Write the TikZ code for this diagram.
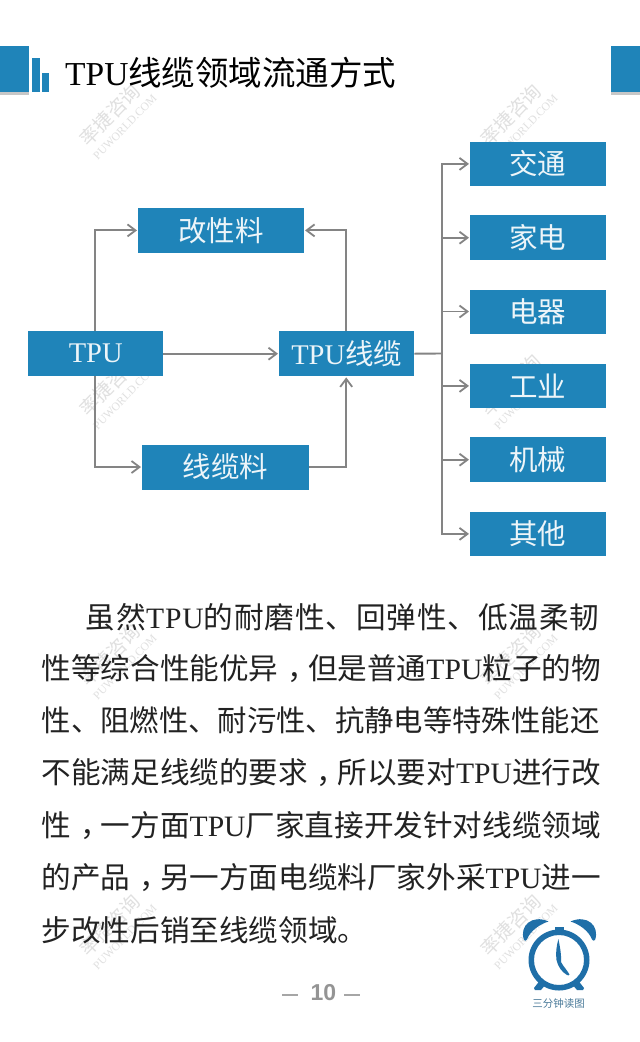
\documentclass[tikz,border=0pt]{standalone}
\usepackage{fontspec}
\usetikzlibrary{arrows.meta}
\setmainfont{Liberation Serif}
\newfontfamily\cjk{Noto Sans CJK SC}
\newfontfamily\cjkw[LetterSpace=3.1]{Noto Sans CJK SC}
\newfontfamily\serifw[LetterSpace=3.1]{Liberation Serif}
\newfontfamily\pagefont{Liberation Sans}
\definecolor{boxblue}{HTML}{1F84B9}
\definecolor{linegray}{HTML}{848484}
\definecolor{clockblue}{HTML}{1F6FA8}
\definecolor{clocktext}{HTML}{4A7A99}
\definecolor{wm}{HTML}{E0E0E0}
\definecolor{inktext}{HTML}{222222}
\newcommand{\ccomma}{\kern0.3em，\kern-0.3em}
\tikzset{
  bluebox/.style={fill=boxblue,text=white!92!boxblue,inner sep=0pt,anchor=north west,align=center,font=\fontsize{28.5}{30}\selectfont},
  conn/.style={draw=linegray,line width=1.9pt,line join=miter},
  arr/.style={conn,-{Straight Barb[length=8pt,width=12pt,line width=1.8pt]},shorten >=1pt},
  bodyline/.style={anchor=west,inner sep=0pt,text=inktext,font=\fontsize{29.6}{31}\selectfont},
  wmmain/.style={text=wm,rotate=46,inner sep=0pt,font=\fontsize{19}{20}\selectfont},
  wmsub/.style={text=wm,rotate=46,inner sep=0pt,font=\fontsize{11.5}{13}\selectfont},
  deco/.style={fill=boxblue,draw=none},
  decoshade/.style={fill=black!22,draw=none},
  clk/.style={fill=clockblue,draw=none}
}
\newcommand{\wmark}[3]{%
  \node[wmmain] (wa#3) at (#1,#2) {\cjk 率捷咨询};
  \node[wmsub] (wb#3) at (#1+15,#2+12) {PUWORLD.COM};
}
\begin{document}
\begin{tikzpicture}[x=1pt,y=-1pt]
\useasboundingbox (0,0) rectangle (640,1042);
\fill[white] (0,0) rectangle (640,1042);
% watermarks
\wmark{110}{115}{1}
\wmark{511}{115}{2}
\wmark{110}{385}{3}
\wmark{511}{385}{4}
\wmark{110}{655}{5}
\wmark{511}{655}{6}
\wmark{110}{925}{7}
\wmark{511}{925}{8}
% header decoration
\fill[decoshade] (0,92) rectangle (28.5,94.5);
\fill[decoshade] (611,92) rectangle (640,94.5);
\fill[deco] (0,46) rectangle (28.5,92);
\fill[deco] (32,58) rectangle (39.6,92);
\fill[deco] (41.6,72.7) rectangle (49,92);
\fill[deco] (611,46) rectangle (640,92);
\node[anchor=west,inner sep=0pt,text=black,font=\fontsize{33.5}{35}\selectfont] (title) at (65,73) {TPU{\cjk 线缆领域流通方式}};
% boxes
\node[bluebox,minimum width=135pt,minimum height=45pt] (tpu) at (28,331) {TPU};
\node[bluebox,minimum width=135pt,minimum height=45pt] (xl) at (279,331) {TPU{\cjk 线缆}};
\node[bluebox,minimum width=165.7pt,minimum height=45pt] (gxl) at (138,207.7) {\cjk 改性料};
\node[bluebox,minimum width=167pt,minimum height=45pt] (xll) at (142,444.3) {\cjk 线缆料};
\node[bluebox,minimum width=135.3pt,minimum height=44pt] (jt) at (470,141.7) {\cjk 交通};
\node[bluebox,minimum width=135.3pt,minimum height=45pt] (jd) at (470,215) {\cjk 家电};
\node[bluebox,minimum width=135.3pt,minimum height=44pt] (dq) at (470,289.3) {\cjk 电器};
\node[bluebox,minimum width=135.3pt,minimum height=44pt] (gy) at (470,363.7) {\cjk 工业};
\node[bluebox,minimum width=135.3pt,minimum height=45pt] (jx) at (470,437) {\cjk 机械};
\node[bluebox,minimum width=135.3pt,minimum height=44pt] (qt) at (470,511.7) {\cjk 其他};
% connectors
\coordinate (trunkmid) at (441.6,353.5);
\draw[arr] (tpu.east) -- (xl.west);
\draw[arr] ([xshift=-0.8pt]tpu.north) |- (gxl.west);
\draw[arr] ([xshift=-0.8pt]tpu.south) |- (xll.west);
\draw[arr] ([xshift=-0.5pt]xl.north) |- (gxl.east);
\draw[arr] (xll.east) -| ([xshift=-0.5pt]xl.south);
\draw[conn] (xl.east) -- (trunkmid);
\draw[arr] (trunkmid) |- (jt.west);
\draw[arr] (trunkmid) |- (jd.west);
\draw[arr] (trunkmid) |- (dq.west);
\draw[arr] (trunkmid) |- (gy.west);
\draw[arr] (trunkmid) |- (jx.west);
\draw[arr] (trunkmid) |- (qt.west);
% body text
\node[bodyline] (l1) at (85.7,616.7) {{\cjkw 虽然}{\serifw TPU}{\cjkw 的耐磨性、回弹性、低温柔韧}};
\node[bodyline] (l2) at (41.5,668.5) {{\cjk 性等综合性能优异\ccomma 但是普通}TPU{\cjk 粒子的物}};
\node[bodyline,font=\fontsize{29.35}{31}\selectfont] (l3) at (41.5,720.5) {{\cjk 性、阻燃性、耐污性、抗静电等特殊性能还}};
\node[bodyline] (l4) at (41.5,773) {{\cjk 不能满足线缆的要求\ccomma 所以要对}TPU{\cjk 进行改}};
\node[bodyline] (l5) at (41.5,825.5) {{\cjk 性\ccomma 一方面}TPU{\cjk 厂家直接开发针对线缆领域}};
\node[bodyline] (l6) at (41.5,878) {{\cjk 的产品\ccomma 另一方面电缆料厂家外采}TPU{\cjk 进一}};
\node[bodyline] (l7) at (41.5,930) {{\cjk 步改性后销至线缆领域。}};
% page number
\node[inner sep=0pt,text=black!42,font=\fontsize{23}{24}\bfseries\selectfont] (pg) at (323.5,993) {\pagefont 10};
\draw[black!35,line width=1.6pt] (282,995) -- (298,995);
\draw[black!35,line width=1.6pt] (344,995) -- (360,995);
% clock
\fill[clk,even odd rule] (559,960) circle (30.5) (559,960) circle (25);
\fill[clk] (524,940) .. controls (519,926) and (532,914) .. (548.5,921.5) .. controls (540,924) and (530,931) .. (527,939.5) .. controls (526,941) and (525,941) .. (524,940) -- cycle;
\fill[clk] (595,940) .. controls (600,926) and (587,914) .. (570.5,921.5) .. controls (579,924) and (589,931) .. (592,939.5) .. controls (593,941) and (594,941) .. (595,940) -- cycle;
\fill[clk] (555,927) rectangle (563.5,933);
\fill[clk] (534,988) -- (541,979) -- (546,984) -- (541,990) -- (535,990) -- cycle;
\fill[clk] (584,988) -- (577,979) -- (572,984) -- (577,990) -- (583,990) -- cycle;
\fill[clk] (558.4,939) .. controls (560,947) and (561.5,955) .. (561,962) .. controls (563,966) and (567,970) .. (569.5,974.5) .. controls (569,975.5) and (568,975.5) .. (567,975) .. controls (562,972) and (558,967) .. (556.5,960) .. controls (555.5,953) and (556.5,946) .. (558.4,939) -- cycle;
\node[inner sep=0pt,text=clocktext,font=\fontsize{10.5}{11}\selectfont] (clocklabel) at (558.5,1004) {\cjk 三分钟读图};
\end{tikzpicture}
\end{document}
